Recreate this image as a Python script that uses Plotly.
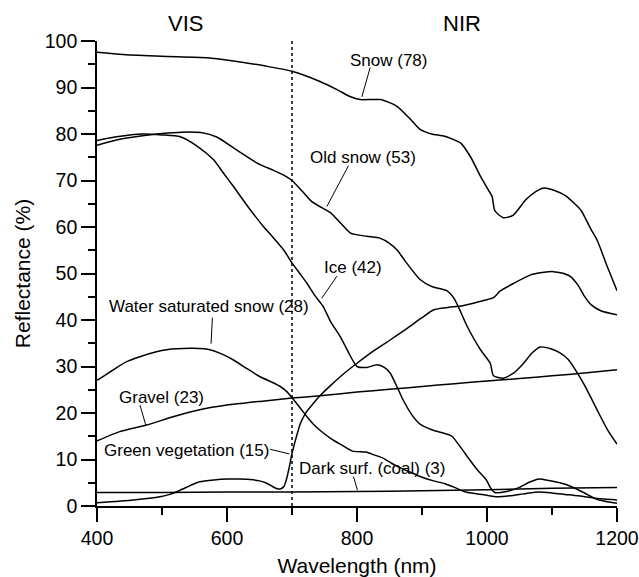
import plotly.graph_objects as go

# ---- data ----
snow_x = [400, 440, 500, 570, 610, 660, 700, 743, 770, 790, 805, 836, 861, 880, 897, 915, 935, 960, 975, 990,
          1002, 1008, 1012, 1025, 1040, 1060, 1075, 1088, 1105, 1120, 1135, 1145, 1160, 1170, 1185, 1200]
snow_y = [97.6, 97.1, 96.7, 96.4, 95.7, 94.6, 93.5, 91.3, 89.5, 88.0, 87.4, 87.4, 86.0, 83.5, 81.0, 80.0, 79.5, 78.0, 75.0, 70.9,
          68.0, 66.5, 63.5, 62.0, 62.5, 65.9, 67.6, 68.4, 67.8, 66.8, 65.0, 63.5, 59.5, 57.0, 51.5, 46.3]

oldsnow_x = [400, 430, 470, 500, 530, 560, 585, 610, 630, 651, 670, 685, 700, 715, 730, 745, 760, 775, 790, 815,
             835, 850, 862, 875, 897, 915, 938, 950, 970, 990, 1005, 1010, 1025, 1040, 1055, 1070, 1082, 1098, 1113,
             1125, 1135, 1150, 1170, 1185, 1200]
oldsnow_y = [77.6, 78.7, 79.6, 80.1, 80.4, 80.3, 79.3, 77.0, 75.2, 73.4, 72.3, 71.3, 70.0, 67.8, 65.5, 64.2, 63.0, 60.8, 58.7, 58.0,
             57.6, 56.5, 55.0, 52.5, 48.7, 47.2, 46.3, 44.5, 38.5, 33.6, 30.7, 28.0, 27.5, 28.5, 30.5, 33.0, 34.2, 33.8, 32.9,
             31.5, 29.5, 26.0, 20.5, 16.5, 13.3]

ice_x = [400, 430, 470, 500, 528, 555, 579, 595, 610, 630, 656, 672, 687, 700, 712, 723, 735, 748, 760, 774,
         787, 800, 815, 831, 842, 851, 862, 871, 885, 897, 915, 930, 946, 960, 973, 985, 999, 1005, 1012, 1030,
         1050, 1065, 1080, 1095, 1115, 1131, 1150, 1168, 1185, 1200]
ice_y = [78.6, 79.4, 80.0, 79.8, 79.4, 77.3, 74.5, 71.5, 68.7, 64.8, 60.1, 57.6, 55.1, 52.3, 50.0, 47.9, 45.3, 42.9, 39.5, 36.5,
         33.0, 30.0, 29.8, 30.4, 29.8, 28.6, 25.5, 22.8, 19.5, 17.6, 16.4, 15.8, 15.0, 12.5, 10.0, 7.8, 5.6, 4.0, 2.9, 3.1,
         4.0, 5.1, 5.8, 5.5, 4.9, 4.1, 2.8, 1.5, 0.9, 0.6]

wetsnow_x = [400, 425, 445, 466, 490, 507, 543, 565, 579, 595, 610, 630, 651, 668, 682, 692, 700, 712, 723, 733,
             743, 761, 778, 793, 814, 826, 840, 853, 867, 883, 898, 918, 935, 950, 967, 985, 1000, 1015, 1035, 1060,
             1080, 1100, 1120, 1140, 1160, 1180, 1200]
wetsnow_y = [27.0, 29.3, 31.0, 32.1, 33.1, 33.6, 33.9, 33.8, 33.4, 32.5, 31.4, 29.6, 27.8, 26.7, 25.7, 24.6, 23.3, 21.2, 19.2, 17.6,
             16.3, 14.4, 13.0, 11.8, 11.6, 11.0, 10.3, 9.2, 8.2, 7.2, 6.3, 5.4, 4.8, 4.0, 3.0, 2.6, 2.3, 2.0, 2.2, 2.7,
             3.0, 2.8, 2.5, 2.2, 1.8, 1.5, 1.3]

gravel_x = [400, 435, 476, 517, 558, 600, 651, 700, 743, 800, 850, 900, 950, 1000, 1050, 1100, 1150, 1200]
gravel_y = [14.0, 16.0, 17.4, 19.2, 20.7, 21.7, 22.5, 23.2, 23.7, 24.5, 25.1, 25.7, 26.3, 26.9, 27.4, 28.0, 28.6, 29.3]

veg_x = [400, 456, 497, 512, 528, 545, 558, 580, 600, 620, 636, 650, 661, 670, 677, 683, 688, 692, 696, 700,
         706, 713, 722, 733, 743, 760, 780, 800, 825, 851, 875, 900, 918, 940, 960, 979, 995, 1010, 1020, 1040,
         1067, 1085, 1102, 1115, 1128, 1140, 1149, 1160, 1175, 1200]
veg_y = [0.7, 1.3, 2.0, 2.5, 3.4, 4.5, 5.2, 5.6, 5.8, 5.8, 5.7, 5.4, 4.9, 4.2, 3.7, 3.7, 4.3, 6.0, 8.5, 11.3,
         14.5, 17.8, 20.2, 22.1, 23.7, 26.0, 28.5, 30.7, 33.3, 35.7, 38.0, 40.5, 42.2, 42.7, 43.0, 43.6, 44.2, 44.8, 46.2, 47.8,
         49.7, 50.2, 50.4, 50.1, 49.4, 47.5, 45.3, 43.3, 42.0, 41.1]

coal_x = [400, 500, 600, 700, 800, 900, 1000, 1100, 1200]
coal_y = [2.9, 2.9, 3.0, 3.0, 3.1, 3.3, 3.5, 3.8, 4.0]

series = [
    ("Snow", snow_x, snow_y),
    ("Old snow", oldsnow_x, oldsnow_y),
    ("Ice", ice_x, ice_y),
    ("Water saturated snow", wetsnow_x, wetsnow_y),
    ("Gravel", gravel_x, gravel_y),
    ("Green vegetation", veg_x, veg_y),
    ("Dark surf. (coal)", coal_x, coal_y),
]

# curve labels: text, label centre (x, y), pointer start, pointer end
label_text = ["Snow (78)", "Old snow (53)", "Ice (42)", "Water saturated snow (28)",
              "Gravel (23)", "Green vegetation (15)", "Dark surf. (coal) (3)"]
label_x = [848, 809.5, 794, 572, 499.3, 537, 823.3]
label_y = [95.9, 74.9, 51.3, 42.9, 23.4, 11.9, 8.0]
pointer_x0 = [820.3, 786.9, 769.0, 577.5, 466.2, 666.3, 794.6]
pointer_y0 = [94.3, 73.2, 49.4, 40.5, 21.7, 12.2, 6.3]
pointer_x1 = [807.5, 753.6, 745.9, 575.5, 475.0, 696.0, 800.7]
pointer_y1 = [88.0, 64.4, 44.7, 34.9, 17.4, 11.2, 3.4]

region_text = ["VIS", "NIR"]
region_x = [535.5, 961.9]
region_y_paper = [1.037, 1.037]

boundary_x = 700

FONT = "Liberation Sans, Arial, sans-serif"

fig = go.Figure()
for name, xs, ys in series:
    fig.add_trace(go.Scatter(x=xs, y=ys, mode="lines", name=name,
                             line=dict(color="black", width=1.5, shape="spline", smoothing=0.6),
                             showlegend=False, hoverinfo="x+y+name"))

# VIS / NIR boundary
fig.add_shape(type="line", xref="x", yref="y", x0=boundary_x, x1=boundary_x, y0=0, y1=100.6,
              line=dict(color="black", width=1.5, dash="dot"), layer="above")

for i, t in enumerate(label_text):
    fig.add_annotation(x=label_x[i], y=label_y[i], text=t, showarrow=False,
                       xanchor="center", yanchor="middle", font=dict(size=17, color="black", family=FONT))
    fig.add_shape(type="line", xref="x", yref="y", x0=pointer_x0[i], y0=pointer_y0[i],
                  x1=pointer_x1[i], y1=pointer_y1[i], line=dict(color="black", width=1))

for i, t in enumerate(region_text):
    fig.add_annotation(x=region_x[i], xref="x", y=region_y_paper[i], yref="paper", text=t, showarrow=False,
                       xanchor="center", yanchor="middle", font=dict(size=22, color="black", family=FONT))

axis_common = dict(showline=True, linecolor="black", linewidth=1.6, ticks="outside", ticklen=14,
                   tickwidth=1.6, tickcolor="black", showgrid=False, zeroline=False,
                   tickfont=dict(size=19.5, color="black", family=FONT))

fig.update_xaxes(range=[400, 1200], tick0=400, dtick=200,
                 minor=dict(dtick=100, tick0=400, ticks="outside", ticklen=7, tickwidth=1.6, tickcolor="black", showgrid=False),
                 title=dict(text="Wavelength (nm)", font=dict(size=21, color="black", family=FONT), standoff=12),
                 **axis_common)
fig.update_yaxes(range=[0, 100], tick0=0, dtick=10,
                 minor=dict(dtick=5, tick0=0, ticks="outside", ticklen=7, tickwidth=1.6, tickcolor="black", showgrid=False),
                 title=dict(text="Reflectance (%)", font=dict(size=21, color="black", family=FONT), standoff=8),
                 **axis_common)

fig.update_layout(width=639, height=577, margin=dict(l=97, r=22, t=41, b=71, autoexpand=False),
                  plot_bgcolor="white", paper_bgcolor="white",
                  font=dict(family=FONT, color="black"))

fig.write_html("out.html")
